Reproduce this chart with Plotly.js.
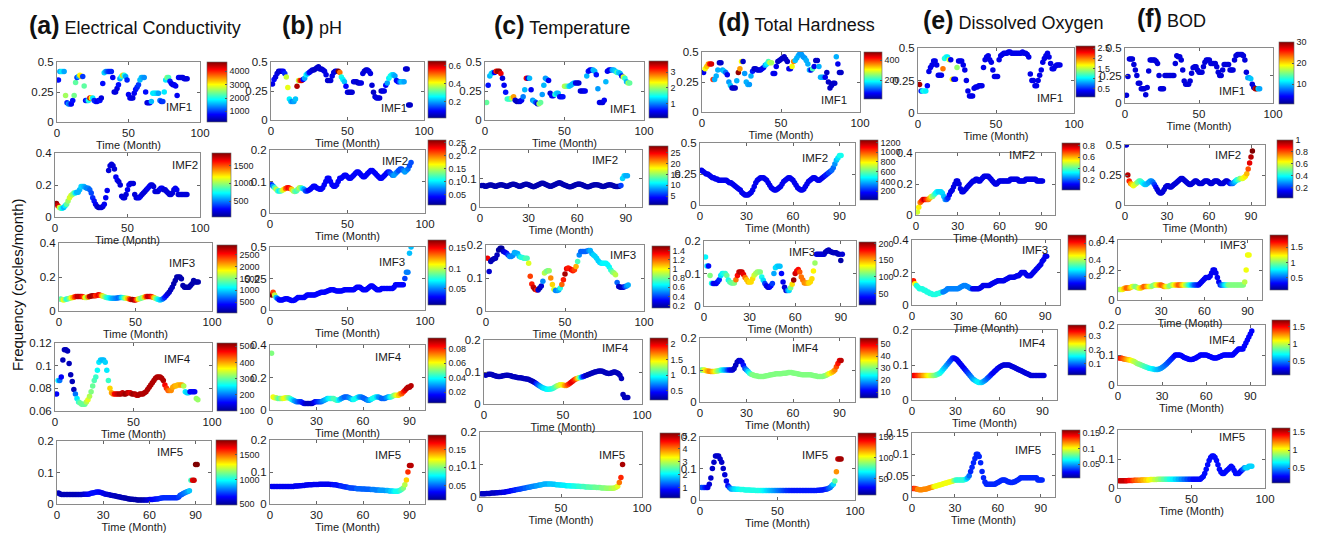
<!DOCTYPE html>
<html><head><meta charset="utf-8">
<script src="https://cdn.plot.ly/plotly-3.0.1.min.js"></script>
<style>html,body{margin:0;padding:0;background:#fff}#chart{width:1318px;height:534px}</style>
</head><body><div id="chart"></div>
<script>
const months = [1,2,3,4,5,6,7,8,9,10,11,12,13,14,15,16,17,18,19,20,21,22,23,24,25,26,27,28,29,30,31,32,33,34,35,36,37,38,39,40,41,42,43,44,45,46,47,48,49,50,51,52,53,54,55,56,57,58,59,60,61,62,63,64,65,66,67,68,69,70,71,72,73,74,75,76,77,78,79,80,81,82,83,84,85,86,87,88,89,90,91];

// ---------- (a) Electrical Conductivity ----------
const ecF1 = [0.35,0.42,0.42,0.42,0.42,0.22,0.16,0.15,0.15,0.15,0.18,0.22,0.33,0.37,0.38,0.39,0.38,0.38,0.30,0.18,0.18,0.18,0.20,0.20,0.20,0.18,0.17,0.17,0.18,0.18,0.20,0.32,0.41,0.42,0.42,0.42,0.42,0.42,0.37,0.25,0.25,0.28,0.31,0.36,0.38,0.39,0.39,0.38,0.35,0.23,0.20,0.20,0.20,0.24,0.27,0.29,0.31,0.35,0.37,0.37,0.37,0.25,0.16,0.16,0.16,0.17,0.24,0.24,0.24,0.24,0.24,0.18,0.17,0.17,0.25,0.35,0.37,0.37,0.34,0.32,0.31,0.31,0.30,0.22,0.37,0.37,0.37,0.37,0.36,0.36,0.36];
const ecV1 = [800,1500,1800,1800,1500,2600,900,1400,1200,700,800,2400,2300,1000,1500,3000,3200,1000,2300,800,1000,2000,4300,3000,1800,900,900,700,700,800,600,800,1700,1500,1200,1000,900,900,700,600,600,600,800,1500,2000,3200,2000,1500,900,700,700,600,600,700,800,900,1000,1600,1600,1500,1400,800,600,600,700,1600,1800,1800,1800,1700,1500,1300,900,1000,1800,1800,2500,2200,900,700,600,700,700,700,700,700,600,600,600,600,600];
const ecF2 = [0.085,0.07,0.06,0.055,0.055,0.06,0.07,0.08,0.1,0.12,0.135,0.14,0.15,0.15,0.155,0.155,0.17,0.19,0.19,0.19,0.185,0.18,0.18,0.17,0.15,0.12,0.1,0.08,0.065,0.06,0.06,0.06,0.065,0.08,0.12,0.165,0.29,0.32,0.33,0.32,0.3,0.25,0.23,0.22,0.2,0.13,0.12,0.12,0.14,0.17,0.2,0.21,0.21,0.21,0.14,0.12,0.12,0.12,0.13,0.14,0.15,0.16,0.17,0.18,0.19,0.2,0.2,0.19,0.16,0.16,0.16,0.17,0.18,0.18,0.17,0.17,0.16,0.15,0.14,0.14,0.15,0.17,0.18,0.17,0.14,0.14,0.14,0.14,0.14,0.14,0.14];
const ecV2 = [1800,1700,1100,900,700,600,700,900,1000,1100,1100,1000,900,700,600,600,600,650,650,600,550,500,500,450,400,350,300,250,200,150,150,200,200,250,250,250,200,200,200,200,200,250,250,200,200,200,200,200,200,250,250,250,200,200,200,200,200,250,250,200,200,200,200,250,250,250,200,200,200,200,200,200,250,250,200,200,200,200,200,200,200,200,250,250,200,200,200,200,200,200,200];
const ecF3 = [0.07,0.068,0.065,0.068,0.07,0.072,0.075,0.078,0.08,0.082,0.085,0.085,0.085,0.085,0.085,0.083,0.08,0.08,0.083,0.085,0.088,0.09,0.09,0.09,0.093,0.095,0.093,0.09,0.087,0.083,0.08,0.078,0.076,0.075,0.075,0.075,0.075,0.076,0.078,0.08,0.08,0.078,0.076,0.075,0.073,0.07,0.068,0.067,0.065,0.065,0.067,0.07,0.073,0.077,0.08,0.083,0.085,0.085,0.085,0.085,0.083,0.08,0.075,0.07,0.067,0.065,0.068,0.072,0.08,0.09,0.1,0.11,0.125,0.14,0.16,0.18,0.2,0.2,0.2,0.19,0.15,0.14,0.14,0.14,0.14,0.15,0.16,0.18,0.17,0.17,0.17];
const ecV3 = [1300,1500,1800,1500,1200,1300,1500,1800,2000,2300,2500,2700,2700,2700,2600,2400,1800,1600,2200,2700,2800,2800,2700,2400,2500,2600,2400,2000,1700,1500,1300,1200,1100,1000,900,850,800,750,700,800,1000,1200,1500,1700,2000,2300,2600,2800,2800,2600,2200,1800,1500,1400,1600,2000,2400,2700,2700,2600,2400,2000,1600,1300,1100,1000,900,700,500,400,300,250,200,200,150,150,150,150,150,150,150,150,150,150,150,150,150,150,150,150,150];
const ecF4 = [0.075,0.087,0.087,0.09,0.105,0.114,0.114,0.113,0.102,0.092,0.086,0.079,0.075,0.071,0.068,0.067,0.066,0.066,0.066,0.068,0.07,0.073,0.077,0.082,0.087,0.09,0.096,0.103,0.105,0.105,0.105,0.103,0.096,0.087,0.08,0.076,0.075,0.075,0.075,0.075,0.075,0.075,0.076,0.075,0.075,0.076,0.076,0.076,0.075,0.075,0.075,0.074,0.074,0.075,0.075,0.075,0.076,0.077,0.079,0.081,0.083,0.085,0.087,0.089,0.09,0.09,0.09,0.089,0.087,0.083,0.08,0.078,0.078,0.078,0.081,0.082,0.082,0.083,0.083,0.083,0.083,0.082,0.077,0.076,0.076,0.077,0.077,0.077,0.077,0.071,0.07];
const ecV4 = [150,250,200,150,120,120,120,120,120,120,120,120,200,250,280,300,300,300,300,330,350,330,310,300,290,280,260,250,240,230,230,240,250,280,380,400,420,470,480,490,500,500,490,500,510,500,490,480,500,510,500,490,500,500,500,500,500,500,500,500,500,500,500,500,500,500,500,500,500,470,450,430,420,410,400,400,390,390,390,400,400,330,250,240,240,150,150,150,150,320,320];
const ecF5 = [0.035,0.032,0.03,0.03,0.03,0.03,0.03,0.03,0.03,0.03,0.03,0.03,0.03,0.03,0.03,0.03,0.031,0.031,0.031,0.031,0.032,0.034,0.035,0.036,0.037,0.038,0.038,0.037,0.036,0.034,0.032,0.031,0.03,0.029,0.028,0.027,0.026,0.025,0.024,0.023,0.022,0.021,0.02,0.019,0.018,0.017,0.016,0.015,0.015,0.014,0.014,0.013,0.013,0.013,0.013,0.013,0.013,0.013,0.013,0.014,0.014,0.014,0.015,0.016,0.016,0.017,0.018,0.019,0.02,0.02,0.02,0.02,0.02,0.02,0.02,0.02,0.02,0.02,0.022,0.028,0.03,0.033,0.036,0.038,0.04,0.042,0.075,0.075,0.075,0.125,0.125];
const ecV5 = [560,540,540,540,540,540,540,540,540,540,540,540,540,550,550,560,570,580,600,620,640,650,660,660,660,660,650,640,630,620,610,600,590,580,570,560,550,550,540,540,540,540,530,530,530,520,520,520,520,520,520,520,520,520,520,530,540,560,580,600,620,640,650,660,670,680,690,700,700,700,700,700,700,700,700,700,700,700,720,740,760,780,800,820,850,900,1050,1650,1700,1800,1800];

// ---------- (b) pH ----------
const phF1 = [0.31,0.35,0.37,0.4,0.42,0.42,0.42,0.42,0.4,0.37,0.28,0.18,0.16,0.16,0.16,0.18,0.29,0.34,0.34,0.34,0.35,0.36,0.39,0.4,0.41,0.42,0.43,0.43,0.44,0.45,0.46,0.44,0.44,0.43,0.42,0.39,0.34,0.34,0.34,0.38,0.41,0.42,0.42,0.42,0.41,0.37,0.35,0.33,0.29,0.24,0.24,0.24,0.24,0.33,0.33,0.33,0.32,0.32,0.32,0.4,0.42,0.43,0.43,0.42,0.4,0.3,0.24,0.2,0.19,0.19,0.19,0.25,0.25,0.25,0.3,0.32,0.36,0.38,0.39,0.39,0.38,0.34,0.33,0.33,0.33,0.33,0.33,0.44,0.44,0.13,0.13];
const phV1 = [0.08,0.1,0.08,0.08,0.06,0.08,0.06,0.1,0.12,0.38,0.4,0.25,0.22,0.18,0.2,0.22,0.62,0.38,0.55,0.6,0.1,0.2,0.25,0.2,0.1,0.08,0.07,0.06,0.06,0.06,0.06,0.07,0.06,0.07,0.08,0.08,0.07,0.06,0.07,0.08,0.08,0.07,0.08,0.65,0.5,0.27,0.25,0.22,0.1,0.08,0.07,0.06,0.07,0.07,0.08,0.07,0.06,0.07,0.08,0.08,0.07,0.06,0.07,0.08,0.08,0.07,0.06,0.07,0.08,0.08,0.07,0.06,0.07,0.08,0.1,0.2,0.25,0.27,0.25,0.22,0.2,0.1,0.1,0.15,0.22,0.22,0.2,0.08,0.06,0.06,0.06];
const phF2 = [0.09,0.085,0.08,0.075,0.07,0.07,0.07,0.072,0.075,0.078,0.08,0.08,0.078,0.075,0.07,0.068,0.07,0.075,0.08,0.08,0.078,0.075,0.07,0.07,0.072,0.075,0.08,0.085,0.085,0.08,0.078,0.075,0.075,0.08,0.09,0.1,0.11,0.11,0.1,0.09,0.085,0.085,0.09,0.1,0.11,0.11,0.115,0.12,0.12,0.115,0.11,0.11,0.115,0.12,0.125,0.13,0.13,0.125,0.12,0.115,0.115,0.12,0.125,0.13,0.135,0.135,0.13,0.125,0.12,0.115,0.11,0.11,0.115,0.12,0.125,0.13,0.13,0.125,0.12,0.12,0.125,0.13,0.135,0.14,0.14,0.135,0.13,0.135,0.14,0.15,0.16];
const phV2 = [0.05,0.08,0.12,0.15,0.12,0.1,0.12,0.15,0.17,0.2,0.22,0.23,0.22,0.18,0.15,0.13,0.12,0.13,0.15,0.13,0.1,0.08,0.06,0.05,0.04,0.04,0.04,0.04,0.04,0.04,0.04,0.04,0.04,0.04,0.04,0.04,0.04,0.04,0.04,0.04,0.04,0.04,0.04,0.04,0.04,0.04,0.04,0.04,0.04,0.04,0.04,0.04,0.04,0.04,0.04,0.04,0.04,0.04,0.04,0.04,0.04,0.04,0.04,0.04,0.04,0.04,0.04,0.04,0.04,0.04,0.04,0.04,0.04,0.04,0.04,0.04,0.05,0.06,0.07,0.08,0.08,0.07,0.06,0.06,0.06,0.07,0.08,0.08,0.07,0.06,0.06];
const phF3 = [0.12,0.14,0.12,0.1,0.09,0.08,0.08,0.08,0.085,0.09,0.09,0.085,0.08,0.075,0.075,0.08,0.09,0.1,0.1,0.1,0.1,0.1,0.11,0.12,0.12,0.12,0.12,0.12,0.12,0.125,0.13,0.135,0.14,0.14,0.14,0.145,0.15,0.155,0.16,0.16,0.16,0.155,0.15,0.15,0.15,0.15,0.155,0.16,0.16,0.16,0.16,0.16,0.16,0.16,0.17,0.18,0.18,0.18,0.17,0.16,0.16,0.16,0.17,0.18,0.19,0.19,0.18,0.17,0.16,0.16,0.16,0.17,0.17,0.17,0.17,0.17,0.17,0.17,0.17,0.18,0.2,0.2,0.2,0.2,0.2,0.2,0.25,0.3,0.3,0.45,0.5];
const phV3 = [0.17,0.14,0.1,0.06,0.04,0.03,0.03,0.03,0.03,0.03,0.03,0.03,0.03,0.03,0.03,0.03,0.03,0.03,0.03,0.03,0.03,0.03,0.03,0.03,0.03,0.03,0.03,0.03,0.03,0.03,0.03,0.03,0.03,0.03,0.03,0.03,0.03,0.03,0.03,0.03,0.03,0.03,0.03,0.03,0.03,0.03,0.03,0.03,0.03,0.03,0.03,0.03,0.03,0.03,0.03,0.03,0.03,0.03,0.03,0.03,0.03,0.03,0.03,0.03,0.03,0.03,0.03,0.03,0.03,0.03,0.03,0.03,0.03,0.03,0.03,0.03,0.03,0.03,0.03,0.03,0.03,0.03,0.03,0.03,0.03,0.03,0.04,0.05,0.05,0.06,0.06];
const phF4 = [0.35,0.08,0.075,0.075,0.07,0.07,0.07,0.07,0.072,0.075,0.075,0.075,0.07,0.065,0.06,0.055,0.05,0.05,0.05,0.05,0.045,0.04,0.04,0.04,0.04,0.04,0.04,0.045,0.05,0.05,0.05,0.05,0.05,0.055,0.06,0.065,0.07,0.07,0.07,0.07,0.07,0.065,0.06,0.06,0.065,0.07,0.075,0.08,0.08,0.08,0.075,0.07,0.065,0.065,0.07,0.075,0.08,0.08,0.08,0.075,0.07,0.065,0.06,0.06,0.065,0.07,0.075,0.08,0.08,0.08,0.075,0.07,0.07,0.07,0.075,0.08,0.08,0.08,0.085,0.09,0.09,0.09,0.09,0.1,0.1,0.11,0.12,0.13,0.14,0.14,0.15];
const phV4 = [0.05,0.06,0.06,0.055,0.05,0.045,0.05,0.055,0.06,0.06,0.055,0.05,0.045,0.04,0.035,0.03,0.028,0.025,0.022,0.02,0.018,0.015,0.012,0.01,0.01,0.01,0.01,0.012,0.015,0.018,0.02,0.022,0.025,0.028,0.03,0.032,0.035,0.038,0.04,0.042,0.045,0.045,0.045,0.04,0.035,0.03,0.028,0.025,0.025,0.025,0.028,0.03,0.035,0.04,0.04,0.04,0.035,0.03,0.028,0.025,0.025,0.025,0.028,0.03,0.035,0.04,0.04,0.04,0.035,0.03,0.028,0.025,0.025,0.025,0.028,0.03,0.035,0.04,0.045,0.05,0.055,0.06,0.065,0.07,0.075,0.08,0.085,0.09,0.09,0.09,0.09];
const phF5 = [0.055,0.055,0.055,0.055,0.055,0.055,0.055,0.055,0.055,0.055,0.055,0.055,0.055,0.055,0.055,0.056,0.056,0.056,0.057,0.057,0.058,0.058,0.059,0.059,0.06,0.06,0.06,0.061,0.061,0.061,0.061,0.062,0.062,0.062,0.062,0.062,0.062,0.062,0.061,0.061,0.06,0.06,0.059,0.058,0.057,0.056,0.055,0.054,0.053,0.052,0.051,0.05,0.05,0.049,0.049,0.048,0.048,0.048,0.047,0.047,0.047,0.046,0.046,0.046,0.045,0.045,0.045,0.044,0.044,0.044,0.043,0.043,0.043,0.042,0.042,0.042,0.041,0.041,0.041,0.04,0.04,0.04,0.041,0.043,0.046,0.05,0.06,0.075,0.1,0.12,0.12];
const phV5 = [0.03,0.03,0.03,0.03,0.03,0.03,0.03,0.03,0.03,0.03,0.03,0.03,0.03,0.03,0.03,0.03,0.03,0.03,0.03,0.03,0.03,0.03,0.03,0.03,0.03,0.03,0.03,0.03,0.03,0.03,0.03,0.03,0.03,0.03,0.03,0.03,0.03,0.03,0.03,0.03,0.035,0.035,0.035,0.035,0.035,0.04,0.04,0.04,0.04,0.04,0.045,0.045,0.045,0.045,0.045,0.05,0.05,0.05,0.05,0.05,0.05,0.05,0.05,0.05,0.05,0.055,0.055,0.055,0.055,0.055,0.06,0.06,0.06,0.06,0.06,0.065,0.065,0.07,0.07,0.075,0.08,0.08,0.08,0.085,0.09,0.1,0.11,0.13,0.16,0.18,0.18];

// ---------- (c) Temperature ----------
const tpF1 = [0.15,0.3,0.38,0.4,0.41,0.41,0.42,0.42,0.42,0.4,0.36,0.3,0.24,0.18,0.18,0.18,0.19,0.2,0.17,0.16,0.16,0.16,0.17,0.2,0.26,0.36,0.36,0.36,0.26,0.17,0.16,0.15,0.14,0.14,0.15,0.22,0.3,0.36,0.35,0.34,0.23,0.21,0.21,0.22,0.23,0.23,0.2,0.2,0.2,0.29,0.29,0.29,0.29,0.3,0.31,0.32,0.32,0.32,0.32,0.25,0.25,0.25,0.25,0.38,0.42,0.43,0.43,0.43,0.42,0.39,0.27,0.15,0.15,0.15,0.17,0.33,0.42,0.43,0.43,0.43,0.43,0.42,0.41,0.41,0.4,0.38,0.37,0.36,0.33,0.32,0.32];
const tpV1 = [1.8,0.6,1.2,1.3,1.2,0.5,3.2,3.6,3.6,3.3,0.4,0.5,0.6,1.7,1.6,1.7,2.2,2.7,0.4,0.3,0.3,0.4,0.5,1.0,1.2,3.3,0.4,1.2,0.5,1.1,1.2,0.8,0.4,2.0,1.8,1.1,1.2,1.1,1.1,0.5,0.4,0.5,0.5,1.6,1.3,1.2,0.6,0.5,0.6,2.1,2.0,1.8,1.3,1.2,1.2,1.2,0.5,0.4,0.4,0.4,0.4,0.4,0.5,1.2,0.6,0.5,0.5,1.2,1.2,0.6,1.1,0.5,0.4,0.4,0.5,1.2,0.5,0.5,0.5,1.1,1.2,1.3,1.7,1.3,1.2,0.6,2.2,1.6,1.2,2.0,1.8];
const tpF2 = [0.075,0.075,0.073,0.073,0.075,0.077,0.077,0.075,0.073,0.073,0.075,0.077,0.078,0.077,0.075,0.073,0.073,0.075,0.078,0.08,0.08,0.078,0.075,0.073,0.073,0.075,0.078,0.08,0.08,0.078,0.075,0.073,0.071,0.073,0.075,0.078,0.081,0.083,0.083,0.081,0.078,0.075,0.073,0.073,0.075,0.078,0.081,0.083,0.085,0.083,0.08,0.077,0.075,0.073,0.071,0.071,0.073,0.075,0.078,0.08,0.081,0.08,0.078,0.075,0.073,0.071,0.071,0.073,0.075,0.077,0.078,0.078,0.077,0.075,0.073,0.072,0.073,0.075,0.077,0.078,0.077,0.075,0.073,0.072,0.072,0.073,0.075,0.1,0.11,0.11,0.11];
const tpV2 = [2,2,2,2,2,2,2,2,2,2,2,2,2,2,2,2,2,2,2,2,2,2,2,2,2,2,2,2,2,2,2,2,2,2,2,2,2,2,2,2,2,2,2,2,2,2,2,2,2,2,2,2,2,2,2,2,2,2,2,2,2,2,2,2,2,2,2,2,2,2,2,2,2,2,2,2,2,2,2,2,2,2,2,2,2,2,6,10,10,9,9];
const tpF3 = [0.16,0.12,0.15,0.155,0.158,0.16,0.17,0.185,0.19,0.19,0.18,0.178,0.175,0.17,0.165,0.165,0.168,0.177,0.176,0.174,0.166,0.163,0.162,0.16,0.16,0.16,0.145,0.105,0.082,0.072,0.066,0.064,0.064,0.07,0.076,0.09,0.115,0.12,0.122,0.122,0.1,0.08,0.066,0.062,0.062,0.064,0.07,0.08,0.095,0.112,0.128,0.13,0.128,0.125,0.122,0.125,0.135,0.15,0.17,0.18,0.18,0.18,0.18,0.182,0.183,0.183,0.174,0.17,0.166,0.16,0.152,0.147,0.145,0.145,0.145,0.145,0.14,0.133,0.124,0.118,0.115,0.11,0.086,0.074,0.072,0.072,0.072,0.074,0.076,0.079];
const tpV3 = [1.35,0.25,0.22,0.2,0.2,0.22,0.22,0.18,0.17,0.17,0.25,0.28,0.3,0.4,0.5,0.5,0.5,0.55,0.55,0.55,0.6,0.7,0.7,0.7,0.75,0.75,0.95,1.25,1.3,1.4,1.45,1.3,0.25,0.2,0.25,0.5,0.9,0.85,0.8,0.85,1.15,1.05,0.95,0.5,0.5,0.55,0.7,1.2,1.3,1.45,1.35,1.3,1.3,1.35,1.3,1.25,1.1,0.75,0.5,0.45,0.45,0.45,0.45,0.45,0.5,0.55,0.55,0.6,0.6,0.6,0.6,0.6,0.62,0.65,0.65,0.65,0.65,0.65,0.7,0.8,0.85,0.9,0.45,0.25,0.22,0.22,0.25,0.4,0.5,0.55];
const tpF4 = [0.09,0.092,0.093,0.093,0.092,0.09,0.088,0.087,0.086,0.086,0.087,0.088,0.089,0.09,0.09,0.089,0.088,0.086,0.085,0.084,0.083,0.082,0.082,0.081,0.08,0.079,0.078,0.077,0.075,0.073,0.07,0.067,0.064,0.06,0.057,0.054,0.051,0.049,0.047,0.046,0.046,0.047,0.048,0.05,0.053,0.056,0.058,0.06,0.06,0.059,0.058,0.058,0.06,0.063,0.067,0.071,0.075,0.078,0.08,0.082,0.083,0.084,0.086,0.088,0.09,0.092,0.094,0.096,0.098,0.1,0.101,0.102,0.103,0.103,0.102,0.1,0.098,0.096,0.095,0.096,0.098,0.1,0.1,0.098,0.095,0.09,0.08,0.03,0.02,0.02,0.02];
const tpV4 = [0.3,0.3,0.3,0.3,0.3,0.3,0.3,0.3,0.3,0.3,0.3,0.3,0.3,0.3,0.3,0.3,0.3,0.3,0.3,0.3,0.3,0.3,0.3,0.3,0.3,0.3,0.3,0.3,0.3,0.3,0.3,0.3,0.5,0.6,0.7,0.8,0.85,0.9,0.9,0.95,0.95,1.0,1.0,1.05,1.1,1.2,1.3,1.35,1.4,1.5,1.6,1.7,1.8,1.9,2.0,2.0,1.9,1.8,1.6,1.3,1.0,0.7,0.5,0.4,0.3,0.3,0.3,0.3,0.3,0.3,0.3,0.3,0.3,0.3,0.3,0.3,0.3,0.3,0.3,0.3,0.3,0.3,0.3,0.3,0.3,0.3,0.3,0.3,0.3,0.3,0.3];
const tpF5 = [0.01,0.01,0.01,0.011,0.011,0.011,0.012,0.012,0.012,0.013,0.013,0.014,0.014,0.015,0.015,0.016,0.017,0.018,0.019,0.02,0.021,0.022,0.023,0.024,0.025,0.026,0.027,0.028,0.029,0.03,0.031,0.032,0.033,0.034,0.035,0.036,0.037,0.038,0.039,0.04,0.04,0.04,0.04,0.04,0.039,0.039,0.038,0.038,0.037,0.037,0.036,0.036,0.035,0.035,0.035,0.034,0.034,0.034,0.033,0.033,0.033,0.032,0.032,0.032,0.031,0.031,0.031,0.03,0.03,0.03,0.03,0.029,0.029,0.029,0.028,0.028,0.028,0.027,0.027,0.027,0.027,0.027,0.028,0.03,0.033,0.045,0.06,0.1];
const tpV5 = [0.5,0.5,0.5,0.5,0.5,0.5,0.5,0.5,0.5,0.5,0.6,0.6,0.6,0.6,0.7,0.7,0.7,0.8,0.8,0.9,0.9,1.0,1.0,1.1,1.1,1.2,1.2,1.3,1.3,1.4,1.4,1.5,1.5,1.5,1.6,1.6,1.6,1.7,1.7,1.7,1.7,1.7,1.8,1.8,1.8,1.8,1.8,1.9,1.9,1.9,2.0,2.0,2.0,2.0,2.1,2.1,2.1,2.2,2.2,2.2,2.3,2.3,2.3,2.4,2.4,2.4,2.5,2.5,2.5,2.5,2.6,2.6,2.6,2.6,2.7,2.7,2.7,2.8,2.8,2.8,2.9,2.9,3.0,3.0,3.2,4.0,4.4,5.0];

// ---------- (d) Total Hardness ----------
const thF1 = [0.33,0.36,0.38,0.4,0.4,0.4,0.27,0.27,0.3,0.35,0.41,0.41,0.35,0.34,0.33,0.31,0.25,0.22,0.2,0.2,0.2,0.26,0.33,0.36,0.42,0.42,0.32,0.25,0.23,0.23,0.3,0.34,0.36,0.36,0.35,0.35,0.35,0.36,0.37,0.39,0.4,0.42,0.41,0.41,0.32,0.32,0.38,0.42,0.43,0.44,0.45,0.46,0.44,0.42,0.36,0.36,0.38,0.42,0.43,0.45,0.47,0.49,0.48,0.46,0.45,0.43,0.4,0.35,0.35,0.36,0.38,0.43,0.43,0.38,0.29,0.29,0.29,0.29,0.33,0.25,0.2,0.22,0.24,0.24,0.46,0.4,0.33,0.33];
const thV1 = [60,300,330,350,420,440,400,150,150,150,40,40,150,160,120,60,140,160,40,40,40,150,470,350,300,40,140,150,150,140,150,80,40,40,50,50,50,60,60,150,180,220,280,260,60,60,60,40,40,40,40,40,40,40,60,60,300,360,160,150,150,140,140,140,140,150,150,150,60,220,60,40,40,150,150,150,140,60,40,40,40,40,40,40,150,60,40,40];
const thF2 = [0.28,0.27,0.26,0.25,0.25,0.24,0.23,0.22,0.22,0.21,0.21,0.2,0.2,0.2,0.2,0.2,0.2,0.19,0.18,0.18,0.17,0.16,0.15,0.14,0.13,0.12,0.1,0.09,0.08,0.08,0.08,0.09,0.1,0.12,0.15,0.18,0.2,0.21,0.22,0.22,0.22,0.21,0.2,0.18,0.16,0.14,0.13,0.12,0.12,0.13,0.14,0.15,0.17,0.19,0.2,0.21,0.22,0.22,0.21,0.2,0.18,0.16,0.14,0.13,0.12,0.12,0.13,0.15,0.17,0.19,0.2,0.21,0.22,0.22,0.21,0.2,0.2,0.21,0.22,0.23,0.24,0.25,0.26,0.27,0.28,0.3,0.33,0.36,0.38,0.4,0.4];
const thV2 = [150,150,150,150,150,150,150,150,150,150,150,150,150,150,150,150,150,150,150,150,150,150,150,150,150,150,150,150,150,150,150,150,150,150,150,150,150,150,150,150,150,150,150,150,150,150,150,150,150,150,150,150,150,150,150,150,150,150,150,150,150,150,150,150,150,150,150,150,150,150,150,150,150,150,150,150,150,150,150,150,200,200,250,250,300,300,350,400,450,500,500];
const thF3 = [0.151,0.123,0.123,0.094,0.07,0.069,0.069,0.069,0.075,0.081,0.094,0.1,0.1,0.1,0.094,0.08,0.074,0.071,0.071,0.071,0.081,0.094,0.105,0.105,0.105,0.097,0.088,0.081,0.074,0.074,0.074,0.084,0.095,0.1,0.105,0.105,0.105,0.089,0.079,0.069,0.062,0.058,0.058,0.062,0.069,0.1,0.118,0.122,0.122,0.122,0.1,0.074,0.058,0.048,0.048,0.048,0.056,0.067,0.08,0.1,0.108,0.112,0.105,0.089,0.08,0.071,0.071,0.071,0.071,0.075,0.084,0.108,0.132,0.159,0.159,0.159,0.159,0.159,0.159,0.166,0.17,0.172,0.168,0.166,0.164,0.164,0.164,0.16,0.159,0.14,0.159];
const thV3 = [85,80,40,110,90,40,35,35,40,45,80,85,90,95,105,90,100,105,105,110,160,180,190,195,190,185,160,145,145,140,140,140,125,120,115,115,110,90,80,50,35,30,35,40,50,70,80,80,75,75,40,35,30,30,60,80,110,140,200,190,185,180,165,160,160,155,155,150,140,140,140,135,115,35,30,30,30,30,30,25,25,25,25,25,25,25,25,25,25,20,30];
const thF4 = [0.1,0.1,0.1,0.098,0.097,0.096,0.095,0.095,0.095,0.096,0.097,0.098,0.099,0.1,0.1,0.1,0.1,0.1,0.1,0.1,0.1,0.105,0.115,0.125,0.13,0.13,0.125,0.115,0.105,0.1,0.095,0.09,0.087,0.085,0.083,0.082,0.081,0.08,0.08,0.08,0.08,0.081,0.082,0.083,0.084,0.085,0.086,0.087,0.088,0.088,0.088,0.088,0.089,0.09,0.09,0.091,0.092,0.092,0.092,0.091,0.09,0.089,0.088,0.087,0.086,0.085,0.085,0.085,0.085,0.085,0.085,0.084,0.083,0.082,0.081,0.08,0.08,0.08,0.08,0.081,0.083,0.085,0.088,0.09,0.092,0.095,0.1,0.11,0.12,0.13,0.13];
const thV4 = [28,32,35,38,40,42,42,40,38,35,32,30,28,25,22,20,18,15,12,10,9,8,8,8,8,9,10,12,15,18,22,25,28,30,30,30,30,30,30,30,30,30,30,30,30,30,30,30,30,30,30,30,30,30,30,30,30,30,30,30,30,30,30,30,30,30,30,30,30,30,30,30,30,30,30,30,30,30,30,30,30,32,34,36,38,40,42,45,48,50,52];
const thF5 = [0.04,0.04,0.04,0.04,0.04,0.05,0.07,0.1,0.12,0.14,0.14,0.14,0.13,0.12,0.1,0.08,0.06,0.045,0.04,0.035,0.035,0.035,0.034,0.034,0.034,0.033,0.033,0.033,0.032,0.032,0.032,0.032,0.031,0.031,0.031,0.03,0.03,0.03,0.03,0.03,0.03,0.03,0.03,0.03,0.03,0.03,0.03,0.03,0.03,0.03,0.03,0.03,0.03,0.03,0.03,0.03,0.03,0.03,0.03,0.03,0.03,0.03,0.03,0.03,0.03,0.03,0.03,0.03,0.03,0.03,0.03,0.03,0.03,0.03,0.03,0.031,0.031,0.032,0.032,0.033,0.034,0.035,0.037,0.04,0.045,0.05,0.06,0.09,0.13,0.13,0.13];
const thV5 = [40,40,35,30,25,22,20,20,20,20,20,20,20,20,20,22,25,30,40,50,55,60,62,64,66,68,70,70,70,70,70,70,70,70,70,70,70,70,70,68,66,64,62,60,58,56,54,52,50,48,46,44,42,40,38,36,35,34,33,32,32,32,32,32,32,32,32,32,32,32,32,32,32,32,32,32,32,32,32,32,32,35,40,45,50,60,80,120,150,155,155];

// ---------- (e) Dissolved Oxygen ----------
const doF1 = [0.22,0.17,0.17,0.17,0.17,0.21,0.32,0.35,0.37,0.4,0.4,0.37,0.29,0.29,0.29,0.34,0.42,0.43,0.43,0.41,0.41,0.26,0.26,0.26,0.35,0.4,0.4,0.4,0.37,0.33,0.25,0.17,0.13,0.13,0.13,0.19,0.2,0.2,0.21,0.21,0.21,0.35,0.41,0.43,0.44,0.41,0.39,0.33,0.28,0.28,0.28,0.41,0.44,0.45,0.46,0.46,0.46,0.47,0.47,0.46,0.46,0.46,0.46,0.46,0.46,0.46,0.47,0.46,0.46,0.45,0.43,0.3,0.25,0.25,0.21,0.21,0.25,0.29,0.33,0.39,0.42,0.44,0.46,0.43,0.38,0.34,0.34,0.36,0.37,0.37,0.37];
const doV1 = [2.5,0.5,1.0,1.1,1.0,0.4,0.35,0.35,0.35,0.35,0.35,0.35,0.35,0.35,0.35,2.0,1.1,1.1,1.0,1.6,0.35,1.7,0.35,0.4,1.4,0.35,0.35,0.35,0.35,0.35,0.35,0.35,0.35,0.35,0.35,0.35,0.35,0.35,0.35,0.35,0.35,0.35,0.35,0.35,0.35,0.35,0.35,0.35,0.35,0.35,0.35,0.35,0.35,0.35,0.35,0.35,0.35,0.35,0.35,0.35,0.35,0.35,0.35,0.35,0.35,0.35,0.35,0.35,0.35,0.35,0.35,0.35,0.35,0.35,0.35,0.35,0.35,0.35,0.35,0.35,0.35,0.35,0.35,0.35,0.35,0.35,0.35,0.35,0.35,0.35,0.35];
const doF2 = [0.02,0.05,0.08,0.09,0.1,0.1,0.1,0.1,0.1,0.11,0.12,0.12,0.13,0.14,0.15,0.15,0.15,0.15,0.14,0.12,0.1,0.1,0.11,0.13,0.15,0.16,0.18,0.2,0.22,0.22,0.2,0.17,0.15,0.15,0.16,0.17,0.18,0.19,0.2,0.21,0.22,0.22,0.23,0.23,0.22,0.22,0.23,0.24,0.25,0.25,0.25,0.25,0.24,0.23,0.22,0.21,0.2,0.2,0.21,0.22,0.22,0.22,0.22,0.22,0.22,0.22,0.22,0.23,0.23,0.23,0.23,0.23,0.23,0.22,0.22,0.22,0.22,0.22,0.23,0.23,0.23,0.23,0.23,0.23,0.23,0.23,0.22,0.22,0.22,0.22,0.22];
const doV2 = [0.5,0.55,0.65,0.7,0.75,0.8,0.75,0.7,0.65,0.6,0.5,0.45,0.4,0.35,0.33,0.3,0.3,0.3,0.3,0.28,0.25,0.2,0.15,0.12,0.1,0.1,0.1,0.1,0.1,0.1,0.1,0.1,0.1,0.1,0.1,0.1,0.1,0.1,0.1,0.1,0.1,0.1,0.1,0.1,0.1,0.1,0.1,0.1,0.1,0.1,0.1,0.1,0.1,0.1,0.1,0.1,0.1,0.1,0.1,0.1,0.1,0.1,0.1,0.1,0.1,0.1,0.1,0.1,0.1,0.1,0.1,0.1,0.1,0.1,0.1,0.1,0.1,0.1,0.1,0.1,0.1,0.1,0.1,0.1,0.1,0.1,0.1,0.1,0.1,0.1,0.1];
const doF3 = [0.15,0.13,0.12,0.11,0.1,0.1,0.1,0.09,0.09,0.08,0.08,0.07,0.07,0.065,0.065,0.065,0.07,0.07,0.075,0.08,0.08,0.085,0.09,0.1,0.1,0.1,0.1,0.1,0.1,0.1,0.1,0.105,0.11,0.115,0.12,0.12,0.115,0.11,0.105,0.1,0.1,0.1,0.1,0.1,0.1,0.105,0.11,0.12,0.12,0.12,0.12,0.12,0.125,0.13,0.135,0.14,0.145,0.15,0.15,0.15,0.15,0.15,0.155,0.16,0.165,0.17,0.17,0.17,0.17,0.175,0.18,0.18,0.19,0.2,0.2,0.2,0.19,0.18,0.18,0.18,0.19,0.2,0.21,0.22,0.23,0.24,0.25,0.27,0.28,0.3,0.3];
const doV3 = [0.6,0.45,0.3,0.3,0.3,0.3,0.3,0.3,0.3,0.3,0.3,0.3,0.3,0.3,0.3,0.3,0.3,0.3,0.3,0.3,0.2,0.2,0.2,0.2,0.2,0.2,0.2,0.2,0.2,0.2,0.2,0.2,0.2,0.2,0.2,0.2,0.2,0.2,0.2,0.2,0.1,0.1,0.1,0.1,0.1,0.1,0.1,0.1,0.1,0.1,0.1,0.1,0.1,0.1,0.1,0.1,0.1,0.1,0.1,0.1,0.1,0.1,0.1,0.1,0.1,0.1,0.1,0.1,0.1,0.1,0.1,0.1,0.1,0.1,0.1,0.1,0.1,0.1,0.1,0.1,0.1,0.1,0.1,0.1,0.1,0.1,0.1,0.1,0.1,0.1,0.1];
const doF4 = [0.07,0.07,0.07,0.07,0.07,0.07,0.07,0.07,0.07,0.07,0.07,0.07,0.07,0.07,0.07,0.071,0.072,0.074,0.076,0.08,0.085,0.09,0.095,0.1,0.105,0.11,0.115,0.12,0.12,0.118,0.115,0.11,0.105,0.1,0.095,0.09,0.085,0.08,0.075,0.07,0.065,0.06,0.057,0.054,0.052,0.05,0.05,0.05,0.052,0.055,0.058,0.062,0.066,0.07,0.074,0.078,0.082,0.086,0.09,0.093,0.096,0.098,0.1,0.1,0.1,0.1,0.1,0.098,0.096,0.094,0.092,0.09,0.088,0.086,0.084,0.082,0.08,0.078,0.076,0.074,0.072,0.07,0.07,0.07,0.07,0.07,0.07,0.07,0.07,0.07,0.07];
const doV4 = [0.34,0.34,0.33,0.32,0.31,0.3,0.29,0.28,0.27,0.26,0.25,0.24,0.23,0.22,0.21,0.2,0.19,0.18,0.17,0.16,0.15,0.14,0.13,0.12,0.11,0.1,0.09,0.08,0.07,0.06,0.06,0.06,0.06,0.06,0.06,0.06,0.07,0.08,0.09,0.1,0.11,0.12,0.13,0.14,0.15,0.15,0.15,0.14,0.13,0.12,0.11,0.1,0.09,0.08,0.07,0.06,0.06,0.06,0.06,0.06,0.05,0.05,0.05,0.05,0.05,0.05,0.05,0.05,0.05,0.05,0.05,0.05,0.05,0.05,0.05,0.05,0.05,0.05,0.05,0.05,0.05,0.05,0.05,0.05,0.05,0.05,0.05,0.05,0.05,0.05,0.05];
const doF5 = [0.02,0.02,0.019,0.018,0.017,0.017,0.017,0.018,0.018,0.019,0.02,0.021,0.022,0.023,0.024,0.025,0.026,0.027,0.028,0.029,0.03,0.031,0.032,0.033,0.034,0.035,0.036,0.037,0.038,0.039,0.04,0.04,0.04,0.04,0.04,0.04,0.041,0.042,0.045,0.05,0.06,0.07,0.08,0.09,0.1,0.1,0.095,0.08,0.06,0.045,0.035,0.03,0.03,0.03,0.03,0.03,0.03,0.03,0.032,0.034,0.036,0.038,0.04,0.04,0.04,0.038,0.036,0.035,0.034,0.034,0.035,0.036,0.038,0.04,0.042,0.045,0.045,0.045,0.045,0.045,0.045,0.045,0.045,0.045,0.045,0.045,0.045,0.04,0.04,0.04,0.04];
const doV5 = [0.14,0.13,0.13,0.12,0.12,0.12,0.12,0.12,0.12,0.12,0.12,0.12,0.12,0.12,0.11,0.1,0.1,0.1,0.1,0.1,0.1,0.1,0.1,0.1,0.1,0.1,0.1,0.1,0.09,0.08,0.07,0.07,0.07,0.07,0.07,0.07,0.07,0.06,0.05,0.04,0.03,0.03,0.03,0.03,0.03,0.03,0.03,0.03,0.03,0.03,0.03,0.03,0.03,0.03,0.03,0.03,0.03,0.03,0.03,0.03,0.03,0.03,0.03,0.03,0.03,0.03,0.03,0.03,0.03,0.03,0.03,0.03,0.03,0.03,0.03,0.03,0.03,0.03,0.03,0.03,0.03,0.03,0.03,0.03,0.03,0.03,0.03,0.03,0.03,0.03,0.03];

// ---------- (f) BOD ----------
const bodF1 = [0.07,0.24,0.4,0.4,0.4,0.35,0.3,0.25,0.18,0.18,0.13,0.13,0.13,0.075,0.14,0.29,0.39,0.39,0.39,0.39,0.38,0.36,0.25,0.13,0.13,0.13,0.25,0.25,0.25,0.25,0.25,0.25,0.25,0.36,0.43,0.42,0.42,0.39,0.3,0.2,0.17,0.17,0.17,0.2,0.27,0.32,0.33,0.33,0.3,0.28,0.28,0.28,0.33,0.37,0.39,0.39,0.39,0.36,0.36,0.36,0.36,0.33,0.28,0.25,0.25,0.3,0.35,0.35,0.35,0.35,0.3,0.3,0.3,0.39,0.43,0.44,0.44,0.44,0.44,0.43,0.39,0.28,0.23,0.23,0.22,0.17,0.14,0.13,0.13,0.13,0.13];
const bodV1 = [3,3,3,3,3,3,3,3,3,3,3,3,3,3,3,3,3,3,3,3,3,3,3,3,3,3,3,3,3,3,3,3,3,3,3,3,3,3,3,3,3,3,3,3,3,3,3,3,3,3,3,3,3,3,3,3,3,3,3,3,3,3,3,3,3,3,3,3,3,3,3,3,3,3,3,3,3,3,3,3,3,3,9,9,10,3,3,28,30,10,9];
const bodF2 = [0.5,0.25,0.2,0.18,0.17,0.16,0.17,0.18,0.19,0.2,0.2,0.19,0.18,0.17,0.17,0.18,0.19,0.2,0.2,0.19,0.17,0.15,0.13,0.11,0.1,0.1,0.11,0.13,0.15,0.16,0.16,0.15,0.15,0.16,0.17,0.18,0.19,0.2,0.21,0.22,0.22,0.21,0.2,0.19,0.18,0.17,0.17,0.18,0.19,0.2,0.2,0.19,0.18,0.18,0.18,0.19,0.2,0.2,0.2,0.19,0.18,0.18,0.19,0.2,0.2,0.2,0.19,0.18,0.18,0.18,0.19,0.2,0.2,0.19,0.18,0.18,0.18,0.19,0.2,0.21,0.21,0.22,0.22,0.22,0.23,0.24,0.26,0.3,0.35,0.4,0.45];
const bodV2 = [0.1,0.95,0.85,0.75,0.68,0.62,0.6,0.58,0.5,0.48,0.45,0.42,0.38,0.35,0.33,0.32,0.3,0.3,0.28,0.25,0.2,0.15,0.1,0.1,0.1,0.1,0.1,0.1,0.1,0.1,0.1,0.1,0.1,0.1,0.1,0.1,0.1,0.1,0.1,0.1,0.1,0.1,0.1,0.1,0.1,0.1,0.1,0.1,0.1,0.1,0.1,0.1,0.1,0.1,0.1,0.1,0.1,0.1,0.1,0.1,0.1,0.1,0.1,0.1,0.1,0.1,0.1,0.1,0.1,0.1,0.1,0.1,0.1,0.1,0.15,0.2,0.25,0.3,0.35,0.4,0.45,0.5,0.55,0.6,0.62,0.65,0.7,0.8,0.9,0.95,1.0];
const bodF3 = [0.07,0.07,0.07,0.075,0.08,0.08,0.08,0.08,0.085,0.09,0.09,0.09,0.085,0.08,0.08,0.08,0.085,0.09,0.09,0.09,0.09,0.09,0.09,0.095,0.1,0.1,0.1,0.1,0.1,0.1,0.095,0.09,0.09,0.09,0.09,0.095,0.1,0.1,0.1,0.1,0.1,0.1,0.1,0.1,0.1,0.1,0.1,0.1,0.1,0.1,0.1,0.1,0.1,0.1,0.1,0.1,0.11,0.12,0.13,0.14,0.15,0.15,0.15,0.16,0.18,0.2,0.2,0.18,0.15,0.12,0.1,0.1,0.1,0.1,0.1,0.1,0.1,0.1,0.1,0.1,0.1,0.1,0.1,0.1,0.1,0.1,0.1,0.12,0.2,0.3,0.3];
const bodV3 = [1.0,1.1,1.2,1.3,1.4,1.5,1.5,1.4,1.3,1.2,1.1,1.0,1.0,1.1,1.2,1.3,1.4,1.5,1.5,1.4,1.3,1.2,1.1,1.0,1.0,1.1,1.2,1.3,1.4,1.5,1.5,1.4,1.3,1.2,1.1,1.0,1.0,1.1,1.2,1.3,1.4,1.5,1.5,1.4,1.3,1.2,1.1,1.0,0.9,0.8,0.7,0.6,0.5,0.45,0.4,0.35,0.3,0.3,0.3,0.3,0.3,0.3,0.3,0.3,0.3,0.3,0.3,0.3,0.3,0.3,0.4,0.5,0.6,0.7,0.8,0.9,1.0,1.0,1.0,1.0,1.0,1.0,1.0,1.0,1.0,1.0,1.0,1.1,1.2,1.2,1.2];
const bodF4 = [0.09,0.09,0.088,0.087,0.086,0.085,0.084,0.083,0.082,0.08,0.078,0.075,0.072,0.07,0.068,0.066,0.064,0.062,0.06,0.058,0.056,0.055,0.054,0.053,0.052,0.052,0.052,0.053,0.055,0.058,0.062,0.066,0.07,0.075,0.08,0.085,0.09,0.095,0.1,0.1,0.1,0.1,0.098,0.095,0.092,0.09,0.088,0.086,0.085,0.085,0.086,0.088,0.09,0.093,0.096,0.1,0.1,0.1,0.1,0.1,0.098,0.096,0.094,0.092,0.09,0.09,0.09,0.092,0.094,0.096,0.098,0.1,0.1,0.1,0.1,0.1,0.1,0.1,0.105,0.11,0.115,0.12,0.12,0.12,0.12,0.13,0.14,0.15,0.16,0.17,0.18];
const bodV4 = [1.5,1.45,1.4,1.35,1.3,1.25,1.2,1.15,1.1,1.05,1.0,0.98,0.95,0.92,0.9,0.88,0.85,0.82,0.8,0.78,0.75,0.72,0.7,0.68,0.65,0.62,0.6,0.58,0.55,0.52,0.5,0.48,0.45,0.42,0.4,0.38,0.35,0.32,0.3,0.3,0.3,0.3,0.3,0.3,0.3,0.3,0.3,0.3,0.3,0.3,0.3,0.3,0.3,0.3,0.3,0.3,0.3,0.3,0.3,0.3,0.3,0.3,0.3,0.3,0.3,0.3,0.3,0.3,0.3,0.3,0.3,0.3,0.3,0.3,0.3,0.3,0.3,0.3,0.3,0.3,0.3,0.3,0.3,0.3,0.3,0.3,0.3,0.3,0.3,0.3,0.3];
const bodF5 = [0.025,0.025,0.025,0.025,0.025,0.025,0.026,0.026,0.026,0.026,0.027,0.027,0.027,0.027,0.027,0.028,0.028,0.028,0.028,0.028,0.028,0.029,0.029,0.029,0.029,0.029,0.03,0.03,0.03,0.03,0.03,0.03,0.03,0.03,0.03,0.03,0.03,0.03,0.03,0.03,0.03,0.03,0.03,0.03,0.03,0.03,0.03,0.03,0.03,0.03,0.03,0.03,0.03,0.03,0.03,0.03,0.035,0.04,0.05,0.065,0.08,0.095,0.105,0.11,0.11,0.105,0.095,0.08,0.065,0.055,0.05,0.05,0.055,0.06,0.065,0.07,0.075,0.07,0.06,0.05,0.05,0.05,0.055,0.06,0.065,0.07,0.07,0.07,0.075,0.075,0.075];
const bodV5 = [1.5,1.5,1.5,1.5,1.5,1.45,1.45,1.4,1.4,1.35,1.3,1.3,1.25,1.25,1.2,1.2,1.15,1.15,1.1,1.1,1.05,1.05,1.0,1.0,0.95,0.95,0.9,0.9,0.85,0.85,0.8,0.8,0.75,0.75,0.7,0.7,0.65,0.65,0.6,0.6,0.55,0.55,0.5,0.5,0.45,0.45,0.4,0.4,0.35,0.35,0.3,0.3,0.3,0.3,0.3,0.3,0.3,0.3,0.3,0.3,0.3,0.3,0.3,0.3,0.3,0.3,0.3,0.3,0.3,0.3,0.3,0.3,0.3,0.3,0.3,0.3,0.3,0.3,0.3,0.3,0.3,0.3,0.3,0.3,0.4,0.5,0.6,0.6,0.6,0.6,0.6];

// ---------- tick labels ----------
const xt50 = [0,50,100], xt30 = [0,30,60,90];

const W = 1318, H = 534;
const panels = [
 {f:ecF1,c:ecV1,imf:'IMF1',box:[57,200,62,122],cb:[207,227,62,122],yr:[0,0.5],yt:[0,0.25,0.5],xt:xt50,cr:[200,4700],ct:[1000,2000,3000,4000],lab:[179,107]},
 {f:ecF2,c:ecV2,imf:'IMF2',box:[55,200,153,217],cb:[212,231,153,217],yr:[0,0.4],yt:[0,0.2,0.4],xt:xt50,cr:[50,1850],ct:[500,1000,1500],lab:[185,165]},
 {f:ecF3,c:ecV3,imf:'IMF3',box:[59,212,243,311],cb:[217,237,245,313],yr:[0,0.4],yt:[0,0.2,0.4],xt:xt50,cr:[50,2900],ct:[500,1000,1500,2000,2500],lab:[182,263]},
 {f:ecF4,c:ecV4,imf:'IMF4',box:[55,212,343,411],cb:[217,237,343,411],yr:[0.06,0.12],yt:[0.06,0.08,0.1,0.12],xt:xt50,cr:[100,520],ct:[100,200,300,400,500],lab:[178,359]},
 {f:ecF5,c:ecV5,imf:'IMF5',box:[57,211,441,504],cb:[216,237,440,505],yr:[0,0.2],yt:[0,0.1,0.2],xt:xt30,cr:[480,1800],ct:[500,1000,1500],lab:[170,452]},
 {f:phF1,c:phV1,imf:'IMF1',box:[271,424,62,120],cb:[428,446,61,118],yr:[0,0.5],yt:[0,0.25,0.5],xt:xt50,cr:[0.02,0.65],ct:[0.2,0.4,0.6],lab:[394,108]},
 {f:phF2,c:phV2,imf:'IMF2',box:[270,425,150,213],cb:[428,446,140,205],yr:[0,0.2],yt:[0,0.1,0.2],xt:xt50,cr:[0.01,0.26],ct:[0.05,0.1,0.15,0.2,0.25],lab:[395,161]},
 {f:phF3,c:phV3,imf:'IMF3',box:[270,425,247,310],cb:[428,446,240,305],yr:[0,0.5],yt:[0,0.25,0.5],xt:xt50,cr:[0.01,0.17],ct:[0.05,0.1,0.15],lab:[392,262]},
 {f:phF4,c:phV4,imf:'IMF4',box:[270,425,345,410],cb:[428,446,338,403],yr:[0,0.4],yt:[0,0.2,0.4],xt:xt30,cr:[0.005,0.095],ct:[0.02,0.04,0.06,0.08],lab:[388,357]},
 {f:phF5,c:phV5,imf:'IMF5',box:[270,425,440,504],cb:[428,446,435,500],yr:[0,0.2],yt:[0,0.1,0.2],xt:xt30,cr:[0.01,0.19],ct:[0.05,0.1,0.15],lab:[388,455]},
 {f:tpF1,c:tpV1,imf:'IMF1',box:[485,644,62,120],cb:[649,668,61,118],yr:[0,0.5],yt:[0,0.25,0.5],xt:xt50,cr:[0.1,3.7],ct:[1,2,3],lab:[623,109]},
 {f:tpF2,c:tpV2,imf:'IMF2',box:[480,642,150,207],cb:[649,668,146,205],yr:[0,0.2],yt:[0,0.1,0.2],xt:xt30,cr:[1,28],ct:[5,10,15,20,25],lab:[605,160]},
 {f:tpF3,c:tpV3,imf:'IMF3',box:[486,644,245,311],cb:[652,670,246,308],yr:[0,0.2],yt:[0,0.1,0.2],xt:xt50,cr:[0.15,1.5],ct:[0.2,0.4,0.6,0.8,1,1.2,1.4],lab:[623,255]},
 {f:tpF4,c:tpV4,imf:'IMF4',box:[484,642,340,404],cb:[650,668,338,400],yr:[0,0.2],yt:[0,0.1,0.2],xt:xt50,cr:[0.2,2.2],ct:[0.5,1,1.5,2],lab:[615,348]},
 {f:tpF5,c:tpV5,imf:'IMF5',box:[480,642,432,497],cb:[660,680,433,498],yr:[0,0.2],yt:[0,0.1,0.2],xt:xt50,cr:[0.2,5.2],ct:[1,2,3,4,5],lab:[612,455]},
 {f:thF1,c:thV1,imf:'IMF1',box:[702,860,52,112],cb:[864,882,52,99],yr:[0,0.5],yt:[0,0.25,0.5],xt:xt50,cr:[10,480],ct:[200,400],lab:[834,100]},
 {f:thF2,c:thV2,imf:'IMF2',box:[700,855,143,205],cb:[860,878,140,200],yr:[0,0.5],yt:[0,0.25,0.5],xt:xt30,cr:[20,1250],ct:[200,400,600,800,1000,1200],lab:[815,158]},
 {f:thF3,c:thV3,imf:'IMF3',box:[704,856,241,306],cb:[859,876,242,305],yr:[0,0.2],yt:[0,0.1,0.2],xt:xt30,cr:[15,205],ct:[50,100,150,200],lab:[802,252]},
 {f:thF4,c:thV4,imf:'IMF4',box:[700,855,338,402],cb:[860,878,338,398],yr:[0,0.2],yt:[0,0.1,0.2],xt:xt30,cr:[5,55],ct:[10,20,30,40,50],lab:[805,348]},
 {f:thF5,c:thV5,imf:'IMF5',box:[700,855,437,500],cb:[858,876,433,495],yr:[0,0.2],yt:[0,0.1,0.2],xt:xt50,cr:[10,160],ct:[50,100,150],lab:[815,455]},
 {f:doF1,c:doV1,imf:'IMF1',box:[918,1074,48,113],cb:[1076,1095,46,97],yr:[0,0.5],yt:[0,0.25,0.5],xt:xt50,cr:[0.1,2.6],ct:[0.5,1,1.5,2,2.5],lab:[1050,98]},
 {f:doF2,c:doV2,imf:'IMF2',box:[916,1055,153,215],cb:[1062,1080,143,190],yr:[0,0.4],yt:[0,0.2,0.4],xt:xt30,cr:[0.02,0.85],ct:[0.2,0.4,0.6,0.8],lab:[1022,155]},
 {f:doF3,c:doV3,imf:'IMF3',box:[912,1060,240,305],cb:[1068,1086,235,290],yr:[0,0.4],yt:[0,0.2,0.4],xt:xt30,cr:[0.03,0.7],ct:[0.2,0.4,0.6],lab:[1035,250]},
 {f:doF4,c:doV4,imf:'IMF4',box:[912,1057,330,400],cb:[1068,1086,325,375],yr:[0,0.2],yt:[0,0.1,0.2],xt:xt30,cr:[0.02,0.38],ct:[0.1,0.2,0.3],lab:[1032,343]},
 {f:doF5,c:doV5,imf:'IMF5',box:[912,1055,433,497],cb:[1062,1080,430,478],yr:[0,0.15],yt:[0,0.05,0.1,0.15],xt:xt30,cr:[0.005,0.16],ct:[0.05,0.1,0.15],lab:[1028,450]},
 {f:bodF1,c:bodV1,imf:'IMF1',box:[1125,1273,48,103],cb:[1279,1294,42,104],yr:[0,0.5],yt:[0,0.25,0.5],xt:xt50,cr:[0.5,30],ct:[10,20,30],lab:[1232,91]},
 {f:bodF2,c:bodV2,imf:'IMF2',box:[1125,1265,145,205],cb:[1277,1293,140,198],yr:[0,0.5],yt:[0,0.25,0.5],xt:xt30,cr:[0.02,1.0],ct:[0.2,0.4,0.6,0.8,1],lab:[1228,155]},
 {f:bodF3,c:bodV3,imf:'IMF3',box:[1118,1262,240,300],cb:[1270,1288,235,290],yr:[0,0.4],yt:[0,0.2,0.4],xt:xt30,cr:[0.1,1.9],ct:[0.5,1,1.5],lab:[1233,245]},
 {f:bodF4,c:bodV4,imf:'IMF4',box:[1118,1265,325,385],cb:[1272,1290,320,375],yr:[0,0.2],yt:[0,0.1,0.2],xt:xt30,cr:[0.1,1.7],ct:[0.5,1,1.5],lab:[1222,340]},
 {f:bodF5,c:bodV5,imf:'IMF5',box:[1118,1265,430,488],cb:[1272,1290,428,483],yr:[0,0.2],yt:[0,0.1,0.2],xt:xt50,cr:[0.1,1.6],ct:[0.5,1,1.5],lab:[1232,437]}
];

const jet = [[0,'rgb(0,0,143)'],[0.125,'rgb(0,0,255)'],[0.375,'rgb(0,255,255)'],[0.625,'rgb(255,255,0)'],[0.875,'rgb(255,0,0)'],[1,'rgb(128,0,0)']];
const FONT = 'Liberation Sans, Arial, sans-serif';
function fmt(v){ return String(v); }

const data = [];
const layout = {
  width: W, height: H, margin:{l:0,r:0,t:0,b:0}, showlegend:false,
  paper_bgcolor:'#ffffff', plot_bgcolor:'#ffffff',
  font:{family:FONT, color:'#1a1a1a', size:11},
  annotations:[]
};
panels.forEach((p,i)=>{
  const k = i+1, s = (k===1?'':String(k));
  const n = Math.min(p.f.length, p.c.length);
  data.push({
    type:'scatter', mode:'markers', x:months.slice(0,n), y:p.f.slice(0,n),
    xaxis:'x'+s, yaxis:'y'+s, hoverinfo:'skip', cliponaxis:true,
    marker:{size:5.5, color:p.c.slice(0,n), colorscale:jet, cmin:p.cr[0], cmax:p.cr[1], showscale:true, line:{width:0},
      colorbar:{x:p.cb[0]/W, xanchor:'left', y:1-p.cb[3]/H, yanchor:'bottom', len:(p.cb[3]-p.cb[2])/H, lenmode:'fraction',
        thickness:p.cb[1]-p.cb[0], thicknessmode:'pixels', xpad:0, ypad:0, outlinewidth:0.6, outlinecolor:'#666',
        tickvals:p.ct, ticktext:p.ct.map(fmt), ticks:'inside', ticklen:2, tickcolor:'#555', tickfont:{size:9, color:'#1a1a1a', family:FONT}}}
  });
  const axBase = {showgrid:false, zeroline:false, showline:true, mirror:'ticks', linecolor:'#8a8a8a', linewidth:1,
    ticks:'inside', ticklen:3, tickcolor:'#666', tickfont:{size:11.5, color:'#1a1a1a', family:FONT}, fixedrange:true};
  layout['xaxis'+s] = Object.assign({}, axBase, {domain:[p.box[0]/W, p.box[1]/W], range:[0,100], tickvals:p.xt, ticktext:p.xt.map(fmt),
    anchor:'y'+s, title:{text:'Time (Month)', font:{size:11, color:'#1a1a1a', family:FONT}, standoff:2}});
  layout['yaxis'+s] = Object.assign({}, axBase, {domain:[1-p.box[3]/H, 1-p.box[2]/H], range:p.yr, tickvals:p.yt, ticktext:p.yt.map(fmt),
    anchor:'x'+s});
  layout.annotations.push({xref:'paper', yref:'paper', x:p.lab[0]/W, y:1-p.lab[1]/H, text:p.imf, showarrow:false,
    font:{size:11.5, color:'#1a1a1a', family:FONT}, xanchor:'center', yanchor:'middle'});
});

const titles = [
  {t:'(a)', n:'Electrical Conductivity', x:27, y:25},
  {t:'(b)', n:'pH', x:280, y:25},
  {t:'(c)', n:'Temperature', x:492, y:25},
  {t:'(d)', n:'Total Hardness', x:716, y:22},
  {t:'(e)', n:'Dissolved Oxygen', x:921, y:20},
  {t:'(f)', n:'BOD', x:1135, y:18}
];
titles.forEach(t=>{
  layout.annotations.push({xref:'paper', yref:'paper', x:t.x/W, y:1-t.y/H, xanchor:'left', yanchor:'middle', showarrow:false,
    text:'<b><span style="font-size:25px">'+t.t+'</span></b> '+t.n, font:{size:18, color:'#111', family:FONT}});
});
layout.annotations.push({xref:'paper', yref:'paper', x:17/W, y:1-285/H, xanchor:'center', yanchor:'middle', showarrow:false,
  textangle:-90, text:'Frequency (cycles/month)', font:{size:15, color:'#111', family:FONT}});

Plotly.newPlot('chart', data, layout, {staticPlot:true, displayModeBar:false});
</script>
</body></html>
